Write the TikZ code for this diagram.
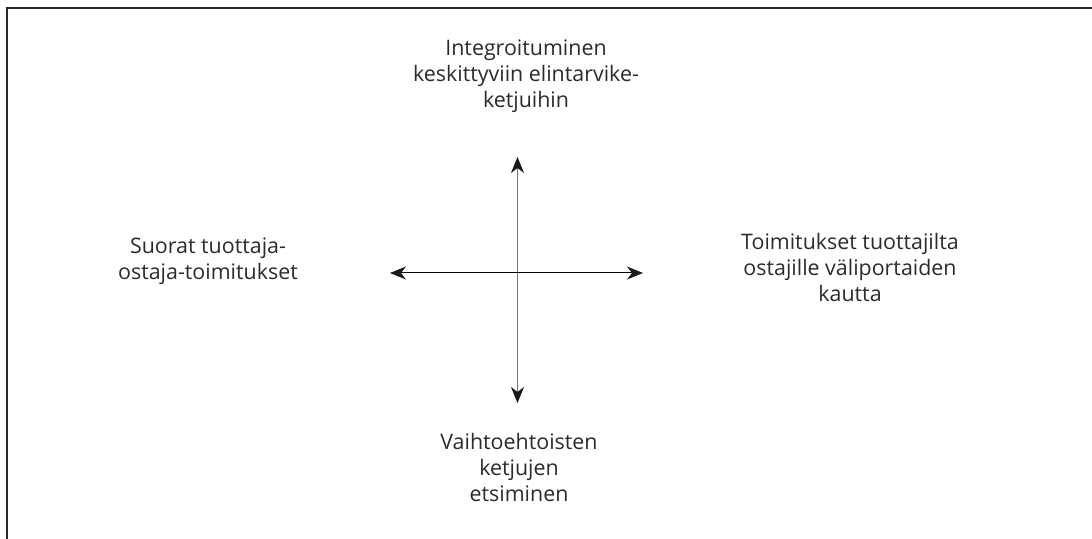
\documentclass[tikz,border=0pt]{standalone}
\usepackage{fontspec}
\setmainfont{Open Sans}
\usetikzlibrary{arrows.meta}
\definecolor{txtgray}{HTML}{2B2B2B}
\tikzstyle{label} = [text centered, align=center, inner sep=0pt, text=txtgray, font=\fontsize{10.7}{12.9}\selectfont]
\tikzstyle{frame} = [line width=1pt, draw=black!85]
\tikzstyle{arrow} = [line width=0.5pt, {Stealth[length=8pt,width=6.5pt,inset=2.5pt,color=black!90]}-{Stealth[length=8pt,width=6.5pt,inset=2.5pt,color=black!90]}]

\begin{document}
\begin{tikzpicture}[x=0.5pt, y=-0.5pt]
    \useasboundingbox (0,0) rectangle (1092,539);

    \draw[frame] (6.5,539) -- (6.5,8) -- (1092,8);

    \node (integ) [label] at (526,76) {Integroituminen\\keskittyviin elintarvike-\\ketjuihin};
    \node (direct) [label] at (208,261) {Suorat tuottaja-\\ostaja-toimitukset};
    \node (via) [label] at (850,267.5) {Toimitukset tuottajilta\\ostajille väliportaiden\\kautta};
    \node (alt) [label] at (519,467.5) {Vaihtoehtoisten\\ketjujen\\etsiminen};

    \coordinate (n) at (517.5,157);
    \coordinate (s) at (517.5,403);
    \coordinate (w) at (390,273);
    \coordinate (e) at (643,273);

    \draw[arrow, draw=black!55] (s) -- (n);
    \draw[arrow] (w) -- (e);

\end{tikzpicture}
\end{document}
